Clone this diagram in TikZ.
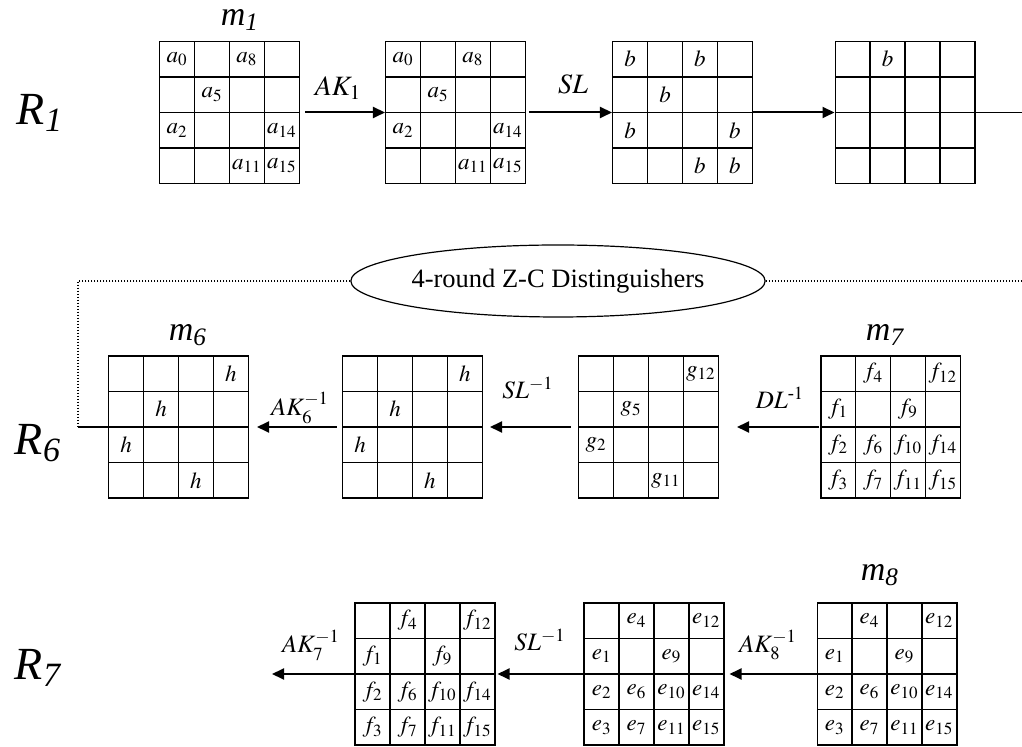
\documentclass[tikz,border=0pt]{standalone}
\usepackage{amsmath}
\usepackage{mathptmx}
\usepackage{fontspec}
\setmainfont{Liberation Serif}
\usetikzlibrary{arrows.meta,shapes.geometric,matrix}

\begin{document}
\begin{tikzpicture}[x=0.5pt, y=-0.5pt,
    state/.style={matrix of math nodes, nodes in empty cells, inner sep=0pt, outer sep=0pt,
        column sep=-0.75pt, row sep=-0.75pt,
        nodes={draw, anchor=center, line width=0.75pt, minimum width=17.44pt, minimum height=17.81pt,
            inner sep=0pt, font=\fontsize{11.5}{12}\selectfont}},
    arr/.style={-{Triangle[length=6pt, width=5.5pt]}, line width=1pt},
    rlbl/.style={inner sep=0pt, font=\fontsize{23}{24}\selectfont\itshape},
    mlbl/.style={inner sep=0pt, font=\fontsize{17}{18}\selectfont\itshape},
    oplbl/.style={font=\fontsize{14}{15}\selectfont},
    invlbl/.style={font=\fontsize{12.5}{13}\selectfont},
    zc/.style={draw, ellipse, line width=0.6pt, minimum width=195pt, minimum height=36pt, inner sep=0pt,
        font=\fontsize{13.25}{14}\selectfont},
    link/.style={line width=0.7pt, dash pattern=on 0.7pt off 0.8pt}
]
\useasboundingbox (0,0) rectangle (1022,747);

% round 1
\node[rlbl] (R1) at (40,113) {R\textsubscript{1}};
\node[mlbl] (m1) at (240,20) {m\textsubscript{1}};
\matrix[state] (r1a) at (229.5,112.5) {
  a_0 & & a_8 & \\
  & a_5 & & \\
  a_2 & & & a_{14} \\
  & & a_{11} & a_{15} \\
};
\matrix[state] (r1b) at (455.5,112.5) {
  a_0 & & a_8 & \\
  & a_5 & & \\
  a_2 & & & a_{14} \\
  & & a_{11} & a_{15} \\
};
\matrix[state] (r1c) at (682.5,112.5) {
  b & & b & \\
  & b & & \\
  b & & & b \\
  & & b & b \\
};
\matrix[state] (r1d) at (905,112.5) {
  & b & & \\
  & & & \\
  & & & \\
  & & & \\
};
\coordinate (r1end) at (1022,112.5);
\node[oplbl] (ak1) at (338,88) {$AK_1$};
\node[oplbl] (sl1) at (573,84) {$SL$};
\draw[arr, shorten <=2.5pt] (r1a) -- (r1b);
\draw[arr, shorten <=1.5pt] (r1b) -- (r1c);
\draw[arr] (r1c) -- (r1d);
\draw[line width=0.5pt] (r1d) -- (r1end);

% distinguisher
\node[zc] (zc) at (558,281) {4-round Z-C Distinguishers};
\coordinate (zcl) at (78,281);
\coordinate (zcd) at (78,427);
\coordinate (zcr) at (1022,281);
\draw[link] (zc.west) -- (zcl) -- (zcd);
\draw[link] (zc.east) -- (zcr);

% round 6
\node[rlbl] (R6) at (38,443) {R\textsubscript{6}};
\node[mlbl] (m6) at (188,335) {m\textsubscript{6}};
\node[mlbl] (m7) at (885,335) {m\textsubscript{7}};
\matrix[state] (r6a) at (178.5,427) {
  & & & h \\
  & h & & \\
  h & & & \\
  & & h & \\
};
\matrix[state] (r6b) at (412.5,427) {
  & & & h \\
  & h & & \\
  h & & & \\
  & & h & \\
};
\matrix[state] (r6c) at (648.5,427) {
  & & & g_{12} \\
  & g_5 & & \\
  g_2 & & & \\
  & & g_{11} & \\
};
\matrix[state] (r6d) at (890.5,427) {
  & f_4 & & f_{12} \\
  f_1 & & f_9 & \\
  f_2 & f_6 & f_{10} & f_{14} \\
  f_3 & f_7 & f_{11} & f_{15} \\
};
\node[invlbl] (ak6) at (300,408) {$AK_6^{-1}$};
\node[invlbl] (sl6) at (528,388) {$SL^{-1}$};
\node[invlbl] (dl6) at (780,398) {$DL^{\text{-}1}$};
\draw[line width=1.3pt] (zcd) -- (r6a);
\draw[arr, shorten <=2.5pt, shorten >=4pt] (r6b) -- (r6a);
\draw[arr, shorten <=3.5pt, shorten >=3.5pt] (r6c) -- (r6b);
\draw[arr, shorten <=0.5pt, shorten >=9pt] (r6d) -- (r6c);

% round 7
\node[rlbl] (R7) at (38,668) {R\textsubscript{7}};
\node[mlbl] (m8) at (880,575) {m\textsubscript{8}};
\matrix[state] (r7a) at (425,674) {
  & f_4 & & f_{12} \\
  f_1 & & f_9 & \\
  f_2 & f_6 & f_{10} & f_{14} \\
  f_3 & f_7 & f_{11} & f_{15} \\
};
\matrix[state] (r7b) at (654,674) {
  & e_4 & & e_{12} \\
  e_1 & & e_9 & \\
  e_2 & e_6 & e_{10} & e_{14} \\
  e_3 & e_7 & e_{11} & e_{15} \\
};
\matrix[state] (r7c) at (887,674) {
  & e_4 & & e_{12} \\
  e_1 & & e_9 & \\
  e_2 & e_6 & e_{10} & e_{14} \\
  e_3 & e_7 & e_{11} & e_{15} \\
};
\coordinate (r7end) at (272,674);
\node[invlbl] (ak7) at (311,645) {$AK_7^{-1}$};
\node[invlbl] (sl7) at (540,640) {$SL^{-1}$};
\node[invlbl] (ak8) at (768,645) {$AK_8^{-1}$};
\draw[arr] (r7a) -- (r7end);
\draw[arr, shorten >=1pt] (r7b) -- (r7a);
\draw[arr, shorten >=2.5pt] (r7c) -- (r7b);
\end{tikzpicture}
\end{document}
